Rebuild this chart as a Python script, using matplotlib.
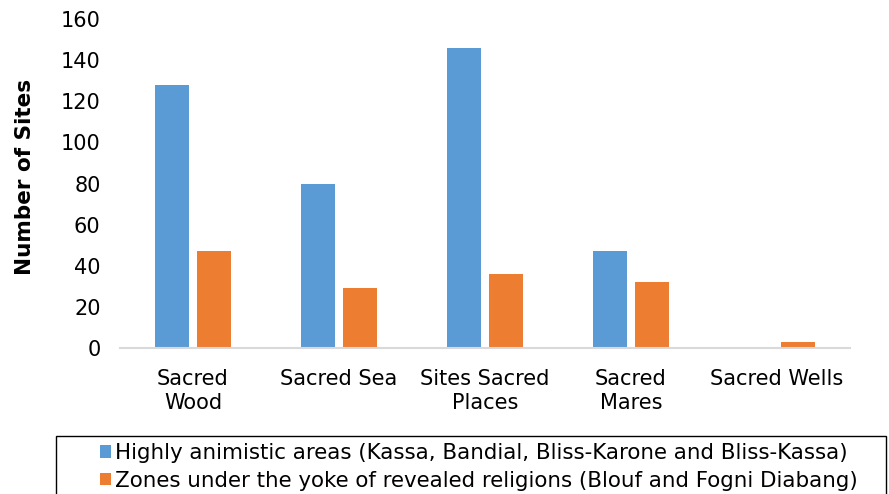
import matplotlib.pyplot as plt
from matplotlib.patches import Rectangle
import numpy as np

categories = ["Sacred\nWood", "Sacred Sea", "Sites Sacred\nPlaces", "Sacred\nMares", "Sacred Wells"]
animistic = [128, 80, 146, 47, 0]
revealed = [47, 29, 36, 32, 3]
series_names = ["Highly animistic areas (Kassa, Bandial, Bliss-Karone and Bliss-Kassa)",
                "Zones under the yoke of revealed religions (Blouf and Fogni Diabang)"]

blue = "#5b9bd5"
orange = "#ed7d31"

plt.rcParams['font.family'] = ['DejaVu Sans']

fig = plt.figure(figsize=(8.89, 4.94), dpi=100)
ax = fig.add_axes([120 / 889, 1 - 348 / 494, 730 / 889, 329 / 494])

x = np.arange(len(categories))
w = 0.23
ax.bar(x - 0.144, animistic, w, color=blue, label=series_names[0])
ax.bar(x + 0.144, revealed, w, color=orange, label=series_names[1])

ax.set_xlim(-0.5, len(categories) - 0.5)
ax.set_ylim(0, 160)
ax.set_yticks(range(0, 161, 20))
ax.set_xticks(x)
ax.set_xticklabels(categories, fontsize=15, linespacing=1.25)
ax.tick_params(axis='y', length=0, labelsize=15, pad=14)
ax.tick_params(axis='x', length=0, pad=15)
for s in ["top", "right", "left"]:
    ax.spines[s].set_visible(False)
ax.spines["bottom"].set_color("#d9d9d9")
ax.spines["bottom"].set_linewidth(1.5)
ax.set_ylabel("Number of Sites", fontsize=15.5, fontweight="bold")
ax.yaxis.set_label_coords(-0.117, 0.52)

# legend box runs past the bottom edge, like the source image
fig.patches.append(Rectangle((56 / 889, -0.05), 830 / 889, 0.05 + 58 / 494,
                             transform=fig.transFigure, fill=False,
                             edgecolor="black", linewidth=1.0))
fig.legend(loc="upper left", bbox_to_anchor=(100 / 889, 1 - 443 / 494),
           fontsize=15.4, frameon=False,
           handlelength=0.5, handleheight=0.5, handletextpad=0.2,
           borderpad=0, labelspacing=0.36, borderaxespad=0)

fig.savefig("out.png", dpi=100)
